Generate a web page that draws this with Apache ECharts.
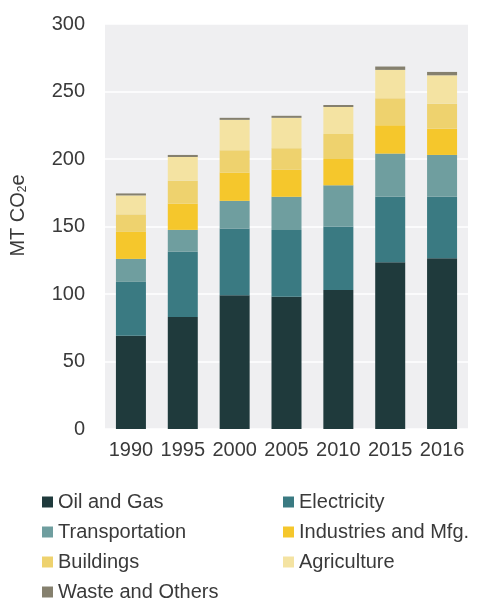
<!DOCTYPE html>
<html>
<head>
<meta charset="utf-8">
<title>Emissions by sector</title>
<script src="https://cdn.jsdelivr.net/npm/echarts@6/dist/echarts.min.js"></script>
<style>
    html, body { margin: 0; padding: 0; background: #fff; }
    #chart { width: 485px; height: 603px; }
</style>
</head>
<body>
<div id="chart"></div>
<script>
//////////////////////////////////////////////////////////////////
// [ Data ]

var years = ['1990', '1995', '2000', '2005', '2010', '2015', '2016'];
var yTicks = [0, 50, 100, 150, 200, 250, 300];

var oilGas         = [69, 83, 99, 98, 103, 123.5, 126.5];
var electricity    = [40, 48.5, 49.5, 49.5, 47, 48.5, 45.5];
var transportation = [17, 16, 20.5, 24.5, 30.5, 32, 31];
var industries     = [20, 19.5, 21, 20, 19.5, 21, 19.5];
var buildings      = [13, 17, 16.5, 16, 18.5, 20, 18.5];
var agriculture    = [14, 17.5, 22.5, 22.5, 20, 21, 21];
var waste          = [1.5, 1.5, 1.5, 1.5, 1.5, 2.5, 2.5];

//////////////////////////////////////////////////////////////////
// [ Chart ]

var font = '"Liberation Sans", Arial, sans-serif';
var textColor = '#3a3a3a';

var seriesDefs = [
    { name: 'Oil and Gas', data: oilGas, color: '#1f3a3c' },
    { name: 'Electricity', data: electricity, color: '#3a7a82' },
    { name: 'Transportation', data: transportation, color: '#6f9e9f' },
    { name: 'Industries and Mfg.', data: industries, color: '#f5c72c' },
    { name: 'Buildings', data: buildings, color: '#eed26e' },
    { name: 'Agriculture', data: agriculture, color: '#f4e3a2' },
    { name: 'Waste and Others', data: waste, color: '#85806e' }
];

var legendBase = {
    orient: 'vertical',
    icon: 'rect',
    itemWidth: 11,
    itemHeight: 11,
    itemGap: 10,
    padding: 0,
    height: 130,
    selectedMode: false,
    textStyle: { fontFamily: font, fontSize: 20, lineHeight: 20, color: textColor }
};

var chart = echarts.init(document.getElementById('chart'));

var options = {
    backgroundColor: '#fff',
    animation: false,
    textStyle: { fontFamily: font },
    legend: [
        Object.assign({}, legendBase, {
            left: 42, top: 492,
            data: ['Oil and Gas', 'Transportation', 'Buildings', 'Waste and Others']
        }),
        Object.assign({}, legendBase, {
            left: 283, top: 492,
            data: ['Electricity', 'Industries and Mfg.', 'Agriculture']
        })
    ],
    grid: {
        left: 105, right: 17, top: 24, bottom: 174,
        show: true,
        backgroundColor: '#efeff1',
        borderWidth: 0
    },
    xAxis: {
        type: 'category',
        data: years,
        axisLine: { show: false },
        axisTick: { show: false },
        axisLabel: { interval: 0, fontSize: 20, color: textColor, margin: 11, fontFamily: font }
    },
    yAxis: {
        type: 'value',
        min: yTicks[0],
        max: yTicks[yTicks.length - 1],
        interval: yTicks[1] - yTicks[0],
        name: 'MT CO{sub|2}e',
        nameLocation: 'middle',
        nameRotate: 90,
        nameGap: 76,
        nameTextStyle: {
            fontSize: 20,
            color: textColor,
            fontFamily: font,
            padding: [0, 0, 0, 22],
            rich: {
                sub: { fontSize: 12, color: textColor, padding: [9, 0, 0, 0], fontFamily: font }
            }
        },
        axisLine: { show: false },
        axisTick: { show: false },
        axisLabel: { fontSize: 20, color: textColor, margin: 20, fontFamily: font },
        splitLine: { lineStyle: { color: '#ffffff', width: 1.5 } }
    },
    series: seriesDefs.map(function (s) {
        return {
            name: s.name,
            type: 'bar',
            stack: 'total',
            barWidth: 30,
            data: s.data,
            itemStyle: { color: s.color }
        };
    })
};

chart.setOption(options);
</script>
</body>
</html>
